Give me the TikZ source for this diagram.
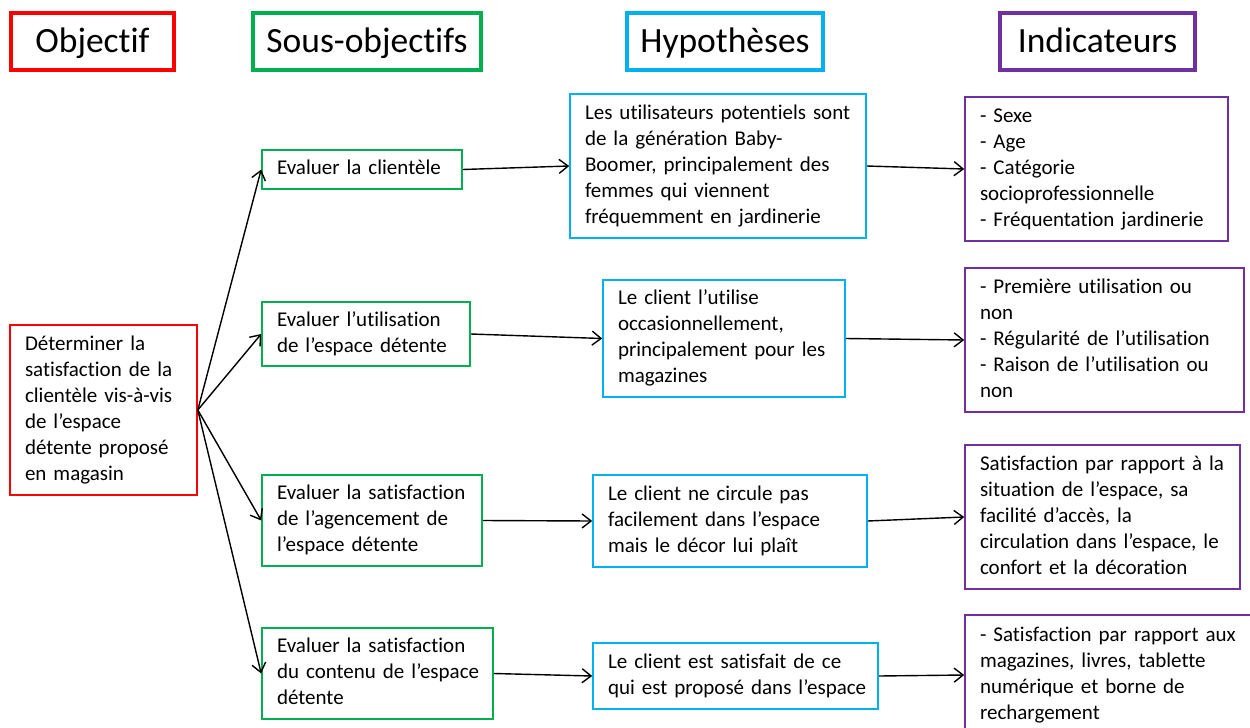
\documentclass[tikz,border=0pt]{standalone}
\usepackage{fontspec}
\setmainfont[Ligatures={NoCommon}]{Carlito}
\usetikzlibrary{arrows.meta}
\definecolor{cred}{HTML}{FF0000}
\definecolor{cgreen}{HTML}{00B050}
\definecolor{ccyan}{HTML}{00B0F0}
\definecolor{cpurple}{HTML}{7030A0}
\newcommand{\bt}[1]{\begin{tabular}{@{}l@{}}#1\end{tabular}}
\tikzset{
  head/.style={draw=#1, line width=3.5pt, minimum height=57pt, inner sep=0pt,
    text height=27pt, text depth=6pt,
    font=\fontsize{35.5}{40}\selectfont},
  boxx/.style={draw=#1, line width=1.6pt, inner xsep=15pt, inner ysep=0pt,
    align=left, font=\fontsize{21}{26}\selectfont},
  arr/.style={line width=1.4pt, -{Straight Barb[length=9pt,width=14pt,line width=1.4pt]}}
}
\begin{document}
\begin{tikzpicture}[x=1pt,y=-1pt]
\fill[white] (0,0) rectangle (1250,728);
\useasboundingbox (0,0) rectangle (1250,728);
\clip (0,0) rectangle (1250,728);
% headers
\node[head=cred, minimum width=163pt] (h1) at (92.5,41.5) {Objectif};
\node[head=cgreen, minimum width=228pt] (h2) at (367,41.5) {Sous-objectifs};
\node[head=ccyan, minimum width=196pt] (h3) at (725,41.5) {Hypothèses};
\node[head=cpurple, minimum width=195pt] (h4) at (1097.5,41.5) {Indicateurs};
% objective
\node[boxx=cred, minimum height=170pt, text width=157pt] (obj) at (103.5,410)
  {\bt{Déterminer la\\satisfaction de la\\clientèle vis-à-vis\\de l’espace\\détente proposé\\en magasin}};
% sub-objectives
\node[boxx=cgreen, minimum height=39pt, text width=170pt] (s1) at (362,169.5)
  {\bt{Evaluer la clientèle}};
\node[boxx=cgreen, minimum height=64pt, text width=178pt] (s2) at (366,334)
  {\bt{Evaluer l’utilisation\\de l’espace détente}};
\node[boxx=cgreen, minimum height=91pt, text width=190pt] (s3) at (372,520.5)
  {\bt{Evaluer la satisfaction\\de l’agencement de\\l’espace détente}};
\node[boxx=cgreen, minimum height=91pt, text width=201pt] (s4) at (377.5,673.5)
  {\bt{Evaluer la satisfaction\\du contenu de l’espace\\détente}};
% hypotheses
\node[boxx=ccyan, minimum height=144pt, text width=266pt] (p1) at (718,166)
  {\bt{Les utilisateurs potentiels sont\\de la génération Baby-\\Boomer, principalement des\\femmes qui viennent\\fréquemment en jardinerie}};
\node[boxx=ccyan, minimum height=117pt, text width=212pt] (p2) at (724,338.5)
  {\bt{Le client l’utilise\\occasionnellement,\\principalement pour les\\magazines}};
\node[boxx=ccyan, minimum height=92pt, text width=244pt] (p3) at (730,521)
  {\bt{Le client ne circule pas\\facilement dans l’espace\\mais le décor lui plaît}};
\node[boxx=ccyan, minimum height=66pt, text width=255pt] (p4) at (735.5,676)
  {\bt{Le client est satisfait de ce\\qui est proposé dans l’espace}};
% indicators
\node[boxx=cpurple, minimum height=144pt, text width=233pt] (i1) at (1096.5,169)
  {\bt{- Sexe\\- Age\\- Catégorie\\socioprofessionnelle\\- Fréquentation jardinerie}};
\node[boxx=cpurple, minimum height=144pt, text width=249pt] (i2) at (1104.5,340)
  {\bt{- Première utilisation ou\\non\\- Régularité de l’utilisation\\- Raison de l’utilisation ou\\non}};
\node[boxx=cpurple, minimum height=144pt, text width=245pt] (i3) at (1102.5,517)
  {\bt{Satisfaction par rapport à la\\situation de l’espace, sa\\facilité d’accès, la\\circulation dans l’espace, le\\confort et la décoration}};
\node[boxx=cpurple, minimum height=120pt, text width=267pt] (i4) at (1113.5,675)
  {\bt{- Satisfaction par rapport aux\\magazines, livres, tablette\\numérique et borne de\\rechargement}};
% arrows
\foreach \s in {s1,s2,s3,s4} \draw[arr] (obj.east) -- (\s.west);
\draw[arr] (s1.east) -- (p1.west);
\draw[arr] (s2.east) -- (p2.west);
\draw[arr] (s3.east) -- (p3.west);
\draw[arr] (s4.east) -- (p4.west);
\draw[arr] (p1.east) -- (i1.west);
\draw[arr] (p2.east) -- (i2.west);
\draw[arr] (p3.east) -- (i3.west);
\draw[arr] (p4.east) -- (i4.west);
\end{tikzpicture}
\end{document}
